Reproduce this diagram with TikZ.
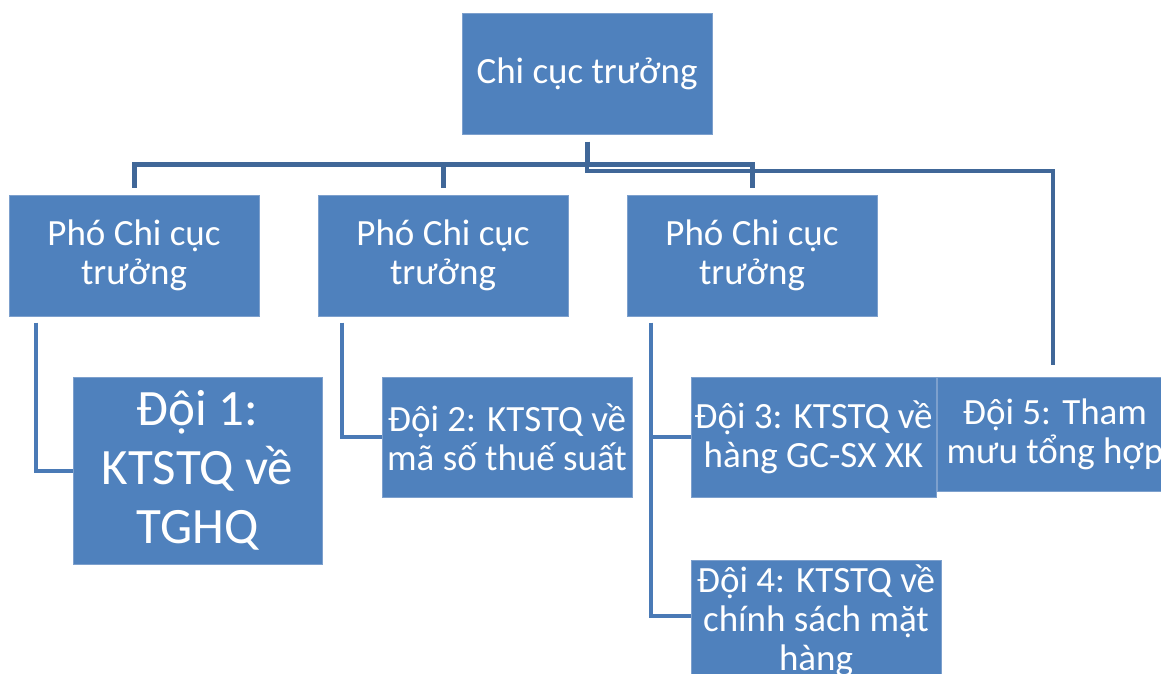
\documentclass[tikz,border=0pt]{standalone}
\usepackage{fontspec}
\setmainfont{Carlito}
\usetikzlibrary{calc}
\definecolor{boxfill}{RGB}{79,129,189}
\definecolor{boxedge}{RGB}{125,160,205}
\definecolor{busline}{RGB}{64,103,152}
\definecolor{sideline}{RGB}{74,122,182}
\begin{document}
\begin{tikzpicture}[x=1pt,y=-1pt,
  orgbox/.style={draw=boxedge,line width=1pt,fill=boxfill,text=white,align=center,
    inner sep=0pt,minimum width=250pt,minimum height=121pt,
    font=\fontsize{37}{39}\selectfont},
  bigtext/.style={font=\fontsize{51}{59}\selectfont},
  buslink/.style={draw=busline,line width=5pt},
  bus2link/.style={draw=busline,line width=4pt},
  sidelink/.style={draw=sideline,line width=4pt}]
\clip (0,0) rectangle (1161,673);
\fill[white] (0,0) rectangle (1161,673);

\node[orgbox] (top) at (587,73.5) {Chi cục trưởng};
\node[orgbox] (pA) at (134,255.5) {Phó Chi cục\\trưởng};
\node[orgbox] (pB) at (443,255.5) {Phó Chi cục\\trưởng};
\node[orgbox] (pC) at (752,255.5) {Phó Chi cục\\trưởng};

\node[orgbox,bigtext,minimum width=249pt,minimum height=187pt] (d1) at (197.5,470.5) {Đội 1:\\KTSTQ về\\TGHQ};
\node[orgbox,minimum height=120pt] (d2) at (507,437) {Đội 2: KTSTQ về\\mã số thuế suất};
\node[orgbox,minimum width=245pt,minimum height=120pt] (d3) at (813.5,437) {Đội 3: KTSTQ về\\hàng GC-SX XK};
\node[orgbox,minimum width=236pt,minimum height=114pt] (d5) at (1055,434) {Đội 5: Tham\\mưu tổng hợp};
\node[orgbox] (d4) at (816,620.5) {Đội 4: KTSTQ về\\chính sách mặt\\hàng};

\coordinate (bus) at ($(top.south)+(0,30)$);
\draw[buslink,shorten <=7pt] (top.south) -- (bus);
\draw[buslink,shorten >=7pt] (bus) -| (pA.north);
\draw[buslink,shorten >=7pt] (bus) -| (pB.north);
\draw[buslink,shorten >=7pt] (bus) -| (pC.north);
\draw[bus2link,shorten >=12pt] (bus) -- ++(0,6) -| ([xshift=-2pt]d5.north);

\draw[sidelink,shorten <=6pt] ([xshift=27pt]pA.south west) |- (d1.west);
\draw[sidelink,shorten <=6pt] ([xshift=24pt]pB.south west) |- (d2.west);
\draw[sidelink,shorten <=6pt] ([xshift=24pt]pC.south west) |- ([yshift=5pt]d4.west);
\draw[sidelink] ([xshift=24pt]pC.south west |- d3.west) -- (d3.west);
\end{tikzpicture}
\end{document}
